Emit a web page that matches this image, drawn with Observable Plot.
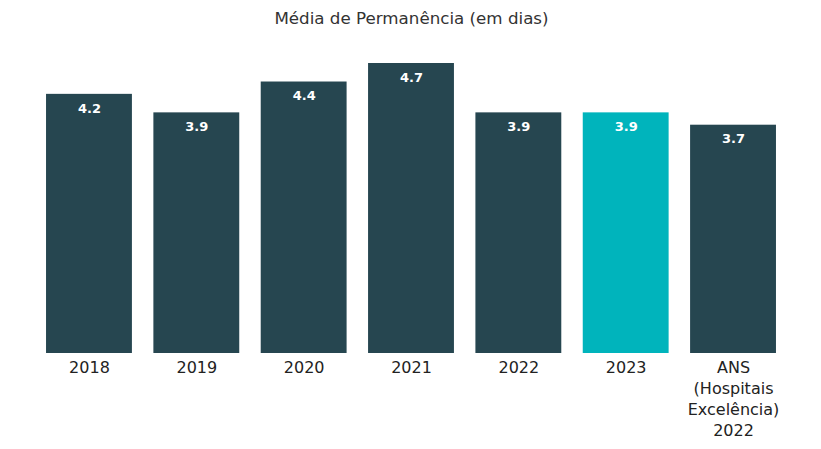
<!DOCTYPE html>
<html>
<head>
<meta charset="utf-8">
<script src="https://cdn.jsdelivr.net/npm/d3@7"></script>
<script src="https://cdn.jsdelivr.net/npm/@observablehq/plot@0.6"></script>
<style>
  html, body { margin: 0; padding: 0; background: #fff; }
</style>
</head>
<body>
<div id="chart"></div>
<script>
const categories = ["2018", "2019", "2020", "2021", "2022", "2023", "ANS\n(Hospitais\nExcelência)\n2022"];
const values = [4.2, 3.9, 4.4, 4.7, 3.9, 3.9, 3.7];
const highlight = [false, false, false, false, false, true, false];
const title = "Média de Permanência (em dias)";

const data = categories.map((c, i) => ({cat: c, value: values[i], hl: highlight[i]}));

const chart = Plot.plot({
  width: 821,
  height: 449,
  marginTop: 63,
  marginBottom: 96,
  marginLeft: 35.3,
  marginRight: 34.3,
  style: {fontFamily: "DejaVu Sans", background: "#fff"},
  x: {domain: categories, paddingInner: 0.2, paddingOuter: 0.1, round: false, label: null},
  y: {domain: [0, 4.7], axis: null},
  marks: [
    Plot.barY(data, {x: "cat", y: "value", fill: d => d.hl ? "#00b4bc" : "#264650"}),
    Plot.text(data, {x: "cat", y: "value", text: d => d.value.toFixed(1), dy: 14, fill: "#fff", fontWeight: "bold", fontSize: 13}),
    Plot.axisX({tickSize: 0, tickPadding: 5, fontSize: 16, lineHeight: 1.3, fill: "#222", label: null}),
    Plot.text([title], {frameAnchor: "top", dy: -51, fontSize: 16.7, fill: "#333"})
  ]
});
document.getElementById("chart").appendChild(chart);
</script>
</body>
</html>
